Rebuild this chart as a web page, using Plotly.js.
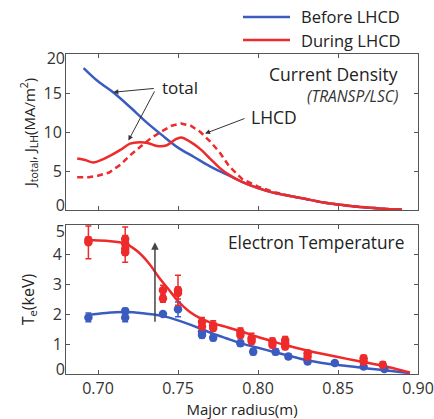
<!DOCTYPE html>
<html><head><meta charset="utf-8">
<script src="https://cdn.plot.ly/plotly-3.0.1.min.js"></script>
<style>html,body{margin:0;padding:0;background:#fff;}#chart{width:434px;height:419px;}</style>
</head><body><div id="chart"></div>
<script>
// ---------- Top panel: current density (MA/m^2) ----------
const jBeforeX = [0.691,0.70,0.71,0.72,0.73,0.74,0.75,0.76,0.77,0.78,0.79,0.80,0.81,0.82,0.83,0.84,0.85,0.86,0.87,0.88,0.89];
const jBeforeY = [18.2,16.5,15.0,13.2,11.3,9.6,8.0,6.8,5.6,4.6,3.6,2.8,2.2,1.8,1.4,1.0,0.7,0.45,0.28,0.14,0.05];
const jDuringX = [0.687,0.692,0.697,0.703,0.708,0.714,0.72,0.726,0.731,0.737,0.743,0.748,0.752,0.758,0.764,0.77,0.776,0.782,0.79,0.80,0.81,0.82,0.83,0.84,0.85,0.86,0.87,0.88,0.89];
const jDuringY = [6.6,6.4,6.1,6.5,7.0,7.7,8.5,8.7,8.6,8.2,8.3,9.0,9.3,8.7,7.8,6.6,5.4,4.5,3.6,2.8,2.2,1.8,1.4,1.0,0.7,0.45,0.28,0.14,0.05];
const jLHX = [0.687,0.694,0.70,0.707,0.714,0.72,0.727,0.733,0.74,0.746,0.752,0.758,0.764,0.77,0.776,0.782,0.79,0.80,0.81,0.82,0.83,0.84,0.85,0.86,0.87,0.88,0.89];
const jLHY = [4.2,4.2,4.4,4.8,5.8,7.0,8.2,9.2,10.1,10.8,11.1,10.8,10.0,8.8,7.4,5.6,4.0,3.0,2.3,1.8,1.4,1.0,0.7,0.45,0.28,0.14,0.05];

// ---------- Bottom panel: electron temperature (keV) ----------
const teBeforeFitX = [0.694,0.705,0.717,0.728,0.74,0.75,0.758,0.765,0.772,0.78,0.79,0.80,0.81,0.82,0.83,0.84,0.85,0.86,0.87,0.88,0.89,0.895];
const teBeforeFitY = [1.98,2.05,2.08,2.04,1.95,1.8,1.65,1.5,1.35,1.2,1.02,0.88,0.74,0.6,0.47,0.37,0.3,0.24,0.18,0.12,0.06,0.03];
const teDuringFitX = [0.694,0.705,0.717,0.725,0.732,0.738,0.744,0.75,0.757,0.764,0.772,0.78,0.79,0.80,0.81,0.82,0.83,0.84,0.85,0.86,0.87,0.88,0.89,0.895];
const teDuringFitY = [4.5,4.47,4.38,4.1,3.7,3.25,2.85,2.45,2.1,1.87,1.7,1.58,1.42,1.24,1.08,0.93,0.8,0.68,0.57,0.46,0.36,0.25,0.12,0.05];

const teDuringX = [0.694,0.694,0.717,0.717,0.717,0.717,0.7406,0.7406,0.75,0.75,0.765,0.765,0.772,0.772,0.789,0.789,0.796,0.796,0.809,0.809,0.817,0.817,0.817,0.831,0.831,0.866,0.866,0.878];
const teDuringY = [4.5,4.42,4.53,4.37,4.2,4.09,2.81,2.53,2.81,2.72,1.75,1.59,1.64,1.54,1.42,1.31,1.2,1.11,1.09,0.98,1.14,1.03,0.92,0.7,0.59,0.53,0.42,0.31];
const teDuringErr = [0.1,0.55,0.4,0.1,0.45,0.1,0.17,0.12,0.5,0.2,0.15,0.1,0.15,0.1,0.12,0.1,0.17,0.1,0.12,0.1,0.12,0.1,0.1,0.1,0.1,0.1,0.1,0.1];
const teBeforeX = [0.694,0.717,0.717,0.7406,0.75,0.765,0.765,0.772,0.789,0.797,0.811,0.819,0.831,0.848,0.866,0.879];
const teBeforeY = [1.9,2.11,1.9,2.01,2.17,1.42,1.31,1.22,1.03,0.75,0.75,0.59,0.42,0.37,0.25,0.17];
const teBeforeErr = [0.15,0.1,0.15,0.05,0.25,0.15,0.1,0.1,0.1,0.1,0.1,0.08,0.08,0.05,0.05,0.05];

const xTicks = [0.70,0.75,0.80,0.85,0.90];
const xTickText = ['0.70','0.75','0.80','0.85','0.90'];
const jTicksInner = [5,10,15];      // end ticks 0 and 20 are labelled by nudged overlay axes
const jTickEnds = [0,20];
const teTicksInner = [1,2,3,4];     // end ticks 0 and 5 likewise
const teTickEnds = [0,5];
const seriesNames = ['Before LHCD','During LHCD'];

const BLUE = '#3a5cc0', RED = '#ee2a2a', AX = '#555';
const FONT = 'Open Sans, Noto Sans, sans-serif';

const traces = [
  {x: jLHX, y: jLHY, xaxis:'x2', yaxis:'y2', mode:'lines', line:{color:RED, width:2.5, dash:'6px,4px'}, showlegend:false},
  {x: jBeforeX, y: jBeforeY, xaxis:'x2', yaxis:'y2', mode:'lines', line:{color:BLUE, width:2.5, shape:'spline'}, showlegend:false},
  {x: jDuringX, y: jDuringY, xaxis:'x2', yaxis:'y2', mode:'lines', line:{color:RED, width:2.5, shape:'spline'}, showlegend:false},
  {x: teBeforeFitX, y: teBeforeFitY, xaxis:'x', yaxis:'y', mode:'lines', line:{color:BLUE, width:2.5, shape:'spline'}, showlegend:false},
  {x: teDuringFitX, y: teDuringFitY, xaxis:'x', yaxis:'y', mode:'lines', line:{color:RED, width:2.5, shape:'spline'}, showlegend:false},
  {x: teBeforeX, y: teBeforeY, xaxis:'x', yaxis:'y', mode:'markers', marker:{color:BLUE, size:8.5},
   error_y:{type:'data', array: teBeforeErr, color:BLUE, thickness:1.5, width:3}, showlegend:false},
  {x: teDuringX, y: teDuringY, xaxis:'x', yaxis:'y', mode:'markers', marker:{color:RED, size:8.5},
   error_y:{type:'data', array: teDuringErr, color:RED, thickness:1.5, width:3}, showlegend:false},
  // empty carriers so the label-only overlay axes get drawn
  {x: [], y: [], xaxis:'x2', yaxis:'y3', mode:'markers', showlegend:false, hoverinfo:'skip'},
  {x: [], y: [], xaxis:'x2', yaxis:'y4', mode:'markers', showlegend:false, hoverinfo:'skip'},
  {x: [], y: [], xaxis:'x', yaxis:'y5', mode:'markers', showlegend:false, hoverinfo:'skip'},
  {x: [], y: [], xaxis:'x', yaxis:'y6', mode:'markers', showlegend:false, hoverinfo:'skip'}
];

const TICKFONT = {family:FONT, size:16, color:'#333'};
const axCommon = {showline:true, linecolor:AX, linewidth:1, mirror:'ticks', ticks:'inside', ticklen:4, tickcolor:AX,
  showgrid:false, zeroline:false, tickfont:TICKFONT};
// label-only overlay axes for the end ticks (nudged inward like the reference)
function labelAxis(over, anchor, rng, val, shift) {
  return {overlaying:over, anchor:anchor, side:'left', range:rng, autorange:false, tickmode:'array', tickvals:[val], ticktext:[String(val)],
    ticks:'', showline:false, showgrid:false, zeroline:false, tickfont:TICKFONT, ticklabelshift:shift};
}

const layout = {
  width:434, height:419,
  margin:{l:66, r:16, t:54, b:45},
  paper_bgcolor:'#fff', plot_bgcolor:'#fff',
  font:{family:FONT, color:'#222'},
  showlegend:false,
  xaxis: Object.assign({}, axCommon, {domain:[0,1], anchor:'y', range:[0.68,0.90], tickvals:xTicks, ticktext:xTickText,
    title:{text:'Major radius(m)', font:{family:FONT, size:15, color:'#222'}, standoff:2}}),
  yaxis: Object.assign({}, axCommon, {domain:[0,0.4656], anchor:'x', range:[0,5], tickvals:teTicksInner,
    title:{text:'T<sub>e</sub>(keV)', font:{family:FONT, size:16, color:'#222'}, standoff:14}}),
  xaxis2: Object.assign({}, axCommon, {domain:[0,1], anchor:'y2', range:[0.68,0.90], tickvals:xTicks, showticklabels:false, matches:'x'}),
  yaxis2: Object.assign({}, axCommon, {domain:[0.5125,1], anchor:'x2', range:[0,20], tickvals:jTicksInner,
    title:{text:'J<sub>total</sub>, J<sub>LH</sub>(MA/m<sup>2</sup>)', font:{family:FONT, size:15, color:'#222'}, standoff:4}}),
  yaxis3: labelAxis('y2','x2',[0,20],jTickEnds[0],-5),
  yaxis4: labelAxis('y2','x2',[0,20],jTickEnds[1],4),
  yaxis5: labelAxis('y','x',[0,5],teTickEnds[0],-5),
  yaxis6: labelAxis('y','x',[0,5],teTickEnds[1],6),
  shapes:[
    {type:'line', xref:'paper', yref:'paper', x0:(243-66)/352, x1:(290-66)/352, y0:1+(54-17)/320, y1:1+(54-17)/320, line:{color:BLUE, width:2.5}},
    {type:'line', xref:'paper', yref:'paper', x0:(243-66)/352, x1:(290-66)/352, y0:1+(54-40)/320, y1:1+(54-40)/320, line:{color:RED, width:2.5}}
  ],
  annotations:[
    {xref:'paper', yref:'paper', x:(299-66)/352, y:1+(54-17)/320, xanchor:'left', yanchor:'middle', showarrow:false, text:seriesNames[0], font:{family:FONT, size:16.5, color:'#222'}},
    {xref:'paper', yref:'paper', x:(299-66)/352, y:1+(54-40)/320, xanchor:'left', yanchor:'middle', showarrow:false, text:seriesNames[1], font:{family:FONT, size:16.5, color:'#222'}},
    {xref:'x2', yref:'y2', x:0.889, y:17.5, xanchor:'right', yanchor:'middle', showarrow:false, text:'Current Density', font:{family:FONT, size:17.5, color:'#222'}},
    {xref:'x2', yref:'y2', x:0.889, y:14.6, xanchor:'right', yanchor:'middle', showarrow:false, text:'<i>(TRANSP/LSC)</i>', font:{family:FONT, size:15.5, color:'#333'}},
    {xref:'x', yref:'y', x:0.8925, y:4.42, xanchor:'right', yanchor:'middle', showarrow:false, text:'Electron Temperature', font:{family:FONT, size:17.3, color:'#222'}},
    {xref:'x2', yref:'y2', x:0.7515, y:15.7, xanchor:'center', yanchor:'middle', showarrow:false, text:'total', font:{family:FONT, size:17, color:'#222'}},
    {xref:'x2', yref:'y2', x:0.7096, y:15.1, ax:0.7358, ay:15.6, axref:'x2', ayref:'y2', text:'', showarrow:true, arrowhead:2, arrowsize:1, arrowwidth:1, arrowcolor:'#333'},
    {xref:'x2', yref:'y2', x:0.7190, y:8.9, ax:0.7358, ay:15.4, axref:'x2', ayref:'y2', text:'', showarrow:true, arrowhead:2, arrowsize:1, arrowwidth:1, arrowcolor:'#333'},
    {xref:'x2', yref:'y2', x:0.8100, y:11.9, xanchor:'center', yanchor:'middle', showarrow:false, text:'LHCD', font:{family:FONT, size:17.5, color:'#222'}},
    {xref:'x2', yref:'y2', x:0.7669, y:9.8, ax:0.7925, ay:11.8, axref:'x2', ayref:'y2', text:'', showarrow:true, arrowhead:2, arrowsize:1, arrowwidth:1, arrowcolor:'#333'},
    {xref:'x', yref:'y', x:0.7356, y:4.42, ax:0.7356, ay:1.7, axref:'x', ayref:'y', text:'', showarrow:true, arrowhead:2, arrowsize:1, arrowwidth:1.5, arrowcolor:'#444'}
  ]
};

Plotly.newPlot('chart', traces, layout, {displayModeBar:false, staticPlot:true});
</script>
</body></html>
